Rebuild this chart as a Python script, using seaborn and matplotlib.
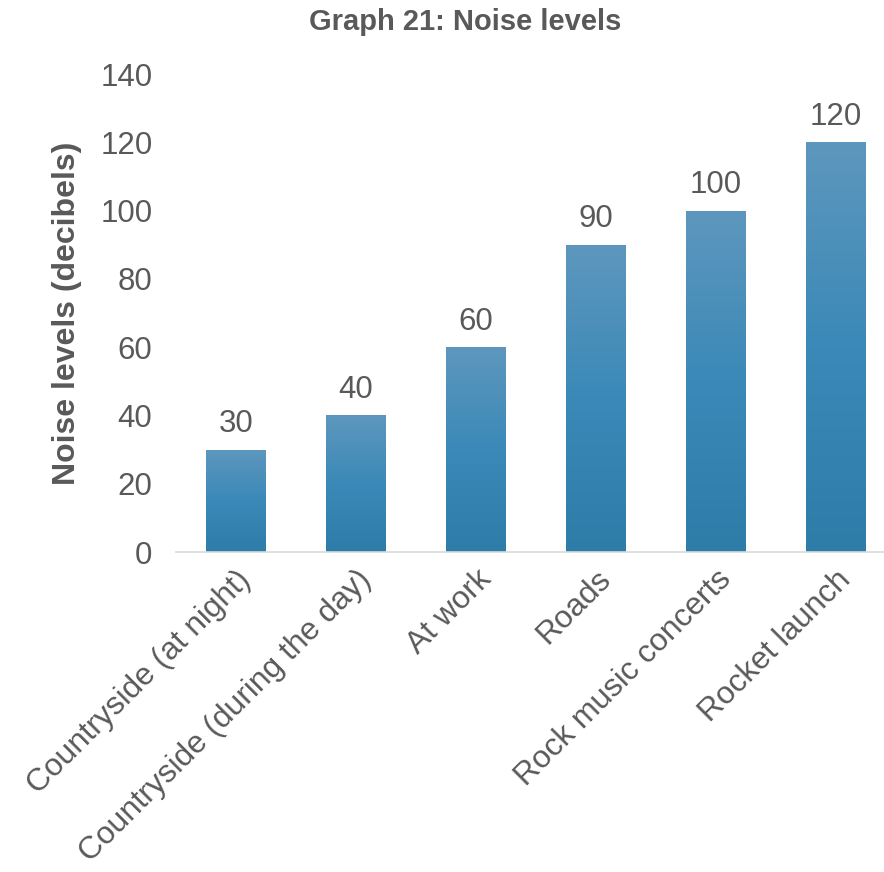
import numpy as np
import pandas as pd
import seaborn as sns
from matplotlib import pyplot as plt
from matplotlib.colors import LinearSegmentedColormap

categories = ["Countryside (at night)", "Countryside (during the day)", "At work",
              "Roads", "Rock music concerts", "Rocket launch"]
decibels = [30, 40, 60, 90, 100, 120]
yticks = [0, 20, 40, 60, 80, 100, 120, 140]

sns.set_theme(style="white")
plt.rcParams['font.family'] = ['Liberation Sans', 'DejaVu Sans']
grey = "#595959"

df = pd.DataFrame({"place": categories, "db": decibels})

fig = plt.figure(figsize=(8.84, 8.72), dpi=100)
ax = fig.add_axes([176 / 884, 1 - 552 / 872, 720 / 884, 478 / 872])

sns.barplot(data=df, x="place", y="db", color="#3a87b5", width=0.5, ax=ax,
            saturation=1)

# vertical gradient inside each bar
cmap = LinearSegmentedColormap.from_list("bar", ["#2e7ca8", "#3a89b8", "#5e97bd"])
grad = np.linspace(0, 1, 256).reshape(-1, 1)
for p in ax.patches:
    x0, y0 = p.get_x(), p.get_y()
    w, h = p.get_width(), p.get_height()
    im = ax.imshow(grad, cmap=cmap, aspect="auto", origin="lower",
                   extent=[x0, x0 + w, y0, y0 + h], zorder=p.get_zorder() + 0.1)
    im.set_clip_path(p)
    ax.text(x0 + w / 2, h + 3, f"{h:.0f}", ha="center", va="bottom",
            fontsize=22.5, color=grey)

ax.set_xlim(-0.5, 5.5)
ax.set_ylim(0, 140)
ax.set_yticks(yticks)
ax.tick_params(axis="y", labelsize=22.5, labelcolor=grey, length=0, pad=17)
ax.tick_params(axis="x", labelsize=22.8, labelcolor=grey, length=0, pad=9)
plt.setp(ax.get_xticklabels(), rotation=45, ha="right", rotation_mode="anchor")

for side in ["top", "right", "left"]:
    ax.spines[side].set_visible(False)
ax.spines["bottom"].set_color("#d9d9d9")
ax.spines["bottom"].set_linewidth(1.2)

ax.set_xlabel("")
ax.set_ylabel("Noise levels (decibels)", fontsize=23, fontweight="bold",
              color=grey, labelpad=13)
fig.text(465 / 884, 1 - 22 / 872, "Graph 21: Noise levels", ha="center",
         va="center", fontsize=21, fontweight="bold", color=grey)

fig.savefig("out.png", dpi=100)
